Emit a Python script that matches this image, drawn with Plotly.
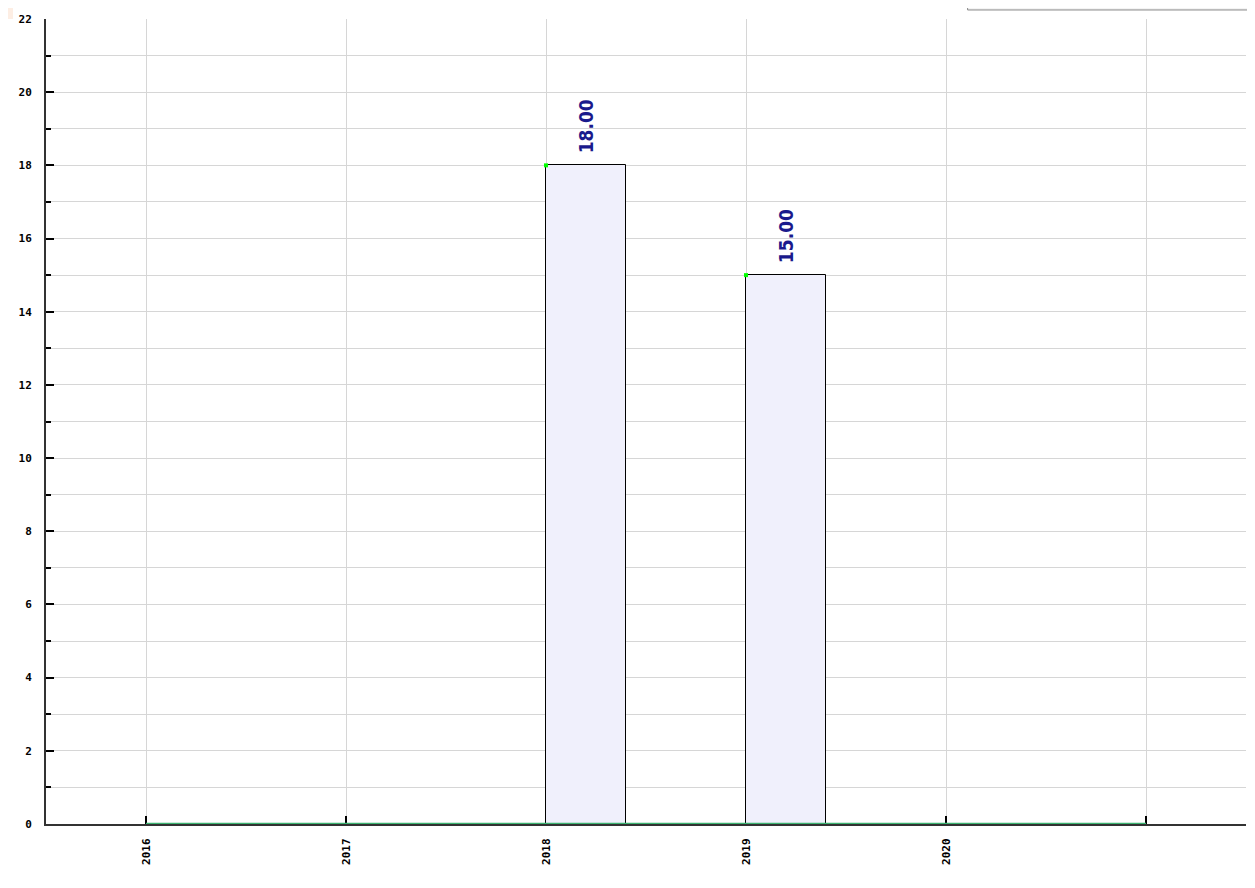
import plotly.graph_objects as go

years = [2016, 2017, 2018, 2019, 2020]
values = [0, 0, 18, 15, 0]
line_years = [2016, 2017, 2018, 2019, 2020, 2021]
line_values = [0, 0, 0, 0, 0, 0]
tick_vals = [2016, 2017, 2018, 2019, 2020, 2021]
tick_text = ["2016", "2017", "2018", "2019", "2020", ""]

bar_years = [y for y, v in zip(years, values) if v > 0]
bar_vals = [v for v in values if v > 0]
BAR_W = 0.4

fig = go.Figure()
fig.add_trace(go.Bar(
    x=bar_years, y=bar_vals, width=BAR_W, offset=0,
    marker=dict(color="#f0f0fc", line=dict(color="#000000", width=1)),
    showlegend=False,
))
fig.add_trace(go.Scatter(
    x=line_years, y=line_values, mode="lines",
    line=dict(color="#3cb371", width=2.5), showlegend=False, cliponaxis=False,
))
fig.add_trace(go.Scatter(
    x=bar_years, y=bar_vals, mode="markers",
    marker=dict(color="#00ff00", size=4, symbol="square"), showlegend=False,
    cliponaxis=False,
))

annotations = [
    dict(x=x + BAR_W / 2, y=v, xref="x", yref="y", text=f"{v:.2f}", showarrow=False,
         textangle=-90, yanchor="bottom", xanchor="center", yshift=10,
         font=dict(family="DejaVu Sans Condensed, Liberation Sans Narrow, DejaVu Sans, sans-serif",
                   size=19, color="#1a1a8c", weight="bold"))
    for x, v in zip(bar_years, bar_vals)
]

fig.update_layout(
    width=1247, height=880,
    margin=dict(l=38, r=9, t=11, b=64),
    paper_bgcolor="white", plot_bgcolor="white",
    bargap=0,
    font=dict(family="DejaVu Sans Mono, monospace", size=11, color="#000000"),
    annotations=annotations,
    xaxis=dict(
        range=[2015.5, 2021.5], tickvals=tick_vals, ticktext=tick_text,
        tickangle=-90, ticks="inside", ticklen=8, tickcolor="#000000", tickwidth=2,
        showgrid=True, gridcolor="#d6d6d6", gridwidth=1,
        showline=True, linecolor="#333333", linewidth=2, zeroline=False,
        ticklabelstandoff=8, automargin=False, layer="below traces",
        tickfont=dict(family="DejaVu Sans Mono, monospace", size=11, weight="bold"),
    ),
    yaxis=dict(
        range=[0, 22], dtick=2, tick0=0,
        ticks="inside", ticklen=8, tickcolor="#000000", tickwidth=2,
        showgrid=True, gridcolor="#d6d6d6", gridwidth=1,
        minor=dict(dtick=1, showgrid=True, gridcolor="#d6d6d6", ticks="inside",
                   ticklen=5, tickcolor="#000000", tickwidth=2),
        showline=True, linecolor="#333333", linewidth=2, zeroline=False,
        ticklabelstandoff=10, automargin=False, layer="below traces",
        tickfont=dict(family="DejaVu Sans Mono, monospace", size=11, weight="bold"),
    ),
    shapes=[
        dict(type="rect", xref="paper", yref="paper", x0=0.768, x1=1.02, y0=1.0112, y1=1.06,
             fillcolor="#f4f4f4", line=dict(color="#888888", width=1)),
        dict(type="rect", xref="paper", yref="paper", x0=-0.0317, x1=-0.0275, y0=1.0, y1=1.02,
             fillcolor="#fdeee4", line=dict(width=0)),
    ],
)

fig.write_html("out.html")
